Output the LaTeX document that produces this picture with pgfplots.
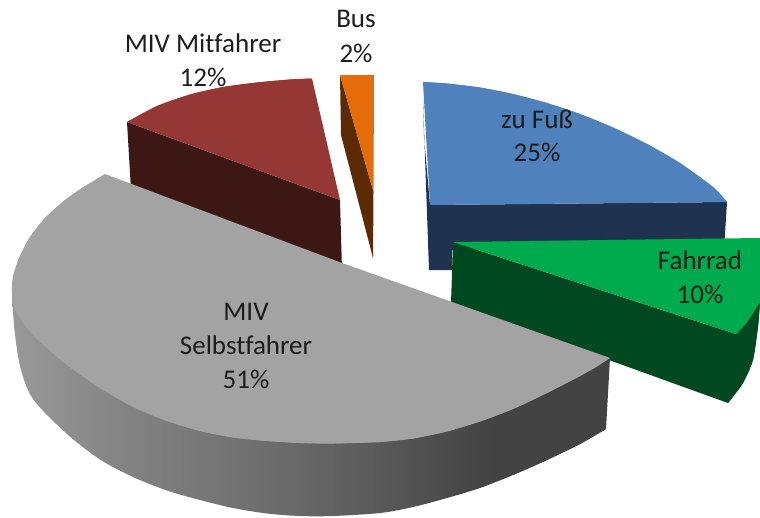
\documentclass[border=0pt]{standalone}
\usepackage{fontspec}
\setmainfont[Ligatures=NoCommon]{Carlito}
\usepackage{pgfplots}
\pgfplotsset{compat=1.18}

\definecolor{blautop}{HTML}{4F81BD}
\definecolor{blauside}{HTML}{1F3350}
\definecolor{gruentop}{HTML}{00AB4E}
\definecolor{gruenside}{HTML}{004820}
\definecolor{rottop}{HTML}{953735}
\definecolor{rotside}{HTML}{3C1714}
\definecolor{orangetop}{HTML}{E46C0A}
\definecolor{orangeside}{HTML}{5C2B05}
\definecolor{graytop}{HTML}{A3A3A3}
\definecolor{grayend}{HTML}{434343}
\definecolor{labeltext}{HTML}{1C1C1C}

\tikzset{lab/.style={font=\fontsize{27}{30}\selectfont, text=labeltext, anchor=base, inner sep=0pt}}

% side of the big slice, dark towards the right
\pgfdeclarehorizontalshading{greyside}{100bp}{
  color(0bp)=(black!40!white);
  color(25bp)=(black!40!white);
  color(35bp)=(black!49!white);
  color(45bp)=(black!56!white);
  color(56bp)=(black!65!white);
  color(64bp)=(black!73!white);
  color(66bp)=(grayend);
  color(100bp)=(grayend)}

\begin{document}
\begin{tikzpicture}
\useasboundingbox (0,0) rectangle (760pt,517pt);
\begin{axis}[
    at={(0,0)}, anchor=south west,
    scale only axis,
    width=760pt, height=517pt,
    xmin=0, xmax=760, ymin=0, ymax=517,
    y dir=reverse,
    hide axis,
]
% each face: a polygon, then its curved rim as a smooth fill on top
% zu Fuss
\addplot[draw=none, fill=blauside] coordinates {
  (423,100) (424,137) (430,205) (727,202) (724,250) (452,250) (452,270) (429,270) (423,100)};
\addplot[draw=none, fill=blautop] coordinates {
  (423,82) (447,83.5) (480,87.5) (513,94) (547,103) (580,114) (613,127.5) (647,144)
  (680,163) (713,187) (727,202) (430,205) (423,82)};
\addplot[draw=none, fill=blautop, smooth] coordinates {
  (423,82) (447,83.5) (480,87.5) (513,94) (547,103) (580,114) (613,127.5) (647,144)
  (680,163) (713,187) (727,202)};
% Fahrrad
\addplot[draw=none, fill=gruenside] coordinates {
  (453,242) (451,303) (728,403) (743,383) (753,360) (758,327) (760,302) (747,322) (736,334) (453,242)};
\addplot[draw=none, fill=gruenside, smooth] coordinates {
  (728,403) (743,383) (753,360) (758,327) (760,302)};
\addplot[draw=none, fill=gruentop] coordinates {
  (453,242) (760,238) (760,302) (747,322) (736,334) (453,242)};
\addplot[draw=none, fill=gruentop, smooth] coordinates {
  (760,302) (747,322) (736,334)};
% MIV Mitfahrer
\addplot[draw=none, fill=rotside] coordinates {
  (127,122) (340,200) (342,270) (131,190) (127,122)};
\addplot[draw=none, fill=rottop] coordinates {
  (127,122) (157,106) (190,94.5) (223,87) (257,82.5) (290,79.5) (312,78.5) (340,200) (127,122)};
\addplot[draw=none, fill=rottop, smooth] coordinates {
  (127,122) (157,106) (190,94.5) (223,87) (257,82.5) (290,79.5) (312,78.5)};
% Bus
\addplot[draw=none, fill=orangeside] coordinates {
  (340,75) (373.5,192) (373,258) (341,135) (340,75)};
\addplot[draw=none, fill=orangetop] coordinates {
  (340,75) (374,75) (373.5,192) (340,75)};
% MIV Selbstfahrer
\addplot[draw=none, shading=greyside, smooth] coordinates {
  (606,429) (580,444) (547,460) (513,475) (480,488) (447,498) (413,507) (380,513)
  (333,516) (300,516) (267,513.5) (233,508) (200,500) (167,490.5) (133,477) (100,459.5)
  (67,434) (33,399) (20,366) (14,325) (12,290)};
\addplot[draw=none, fill=grayend] coordinates {
  (513,409) (610,358) (606,429) (580,444) (547,460) (513,475) (513,409)};
\addplot[draw=none, fill=graytop] coordinates {
  (105,174) (342,263) (610,358) (597,366.5) (580,376) (547,393) (513,409)
  (480,421.5) (447,431.5) (413,438.5) (380,442) (333,443.5) (300,443) (267,441) (233,437.5)
  (200,431) (167,421) (133,407) (100,388) (67,365) (33,335) (15,310) (12,292)
  (13,277) (19,258) (30,237) (45,218) (65,200) (85,186) (105,174)};
\addplot[draw=none, fill=graytop, smooth] coordinates {
  (597,366.5) (580,376) (547,393) (513,409)
  (480,421.5) (447,431.5) (413,438.5) (380,442) (333,443.5) (300,443) (267,441) (233,437.5)
  (200,431) (167,421) (133,407) (100,388) (67,365) (33,335) (15,310) (12,292)
  (13,277) (19,258) (30,237) (45,218) (65,200) (85,186)};

\node[lab] at (axis cs:537,128) {zu Fuß};
\node[lab] at (axis cs:537,161) {25\%};
\node[lab] at (axis cs:700,269) {Fahrrad};
\node[lab] at (axis cs:700,303) {10\%};
\node[lab] at (axis cs:246,320) {MIV};
\node[lab] at (axis cs:246,354) {Selbstfahrer};
\node[lab] at (axis cs:246,388) {51\%};
\node[lab] at (axis cs:203,52) {MIV Mitfahrer};
\node[lab] at (axis cs:203,86) {12\%};
\node[lab] at (axis cs:356,27) {Bus};
\node[lab] at (axis cs:356,62) {2\%};
\end{axis}
\end{tikzpicture}
\end{document}
